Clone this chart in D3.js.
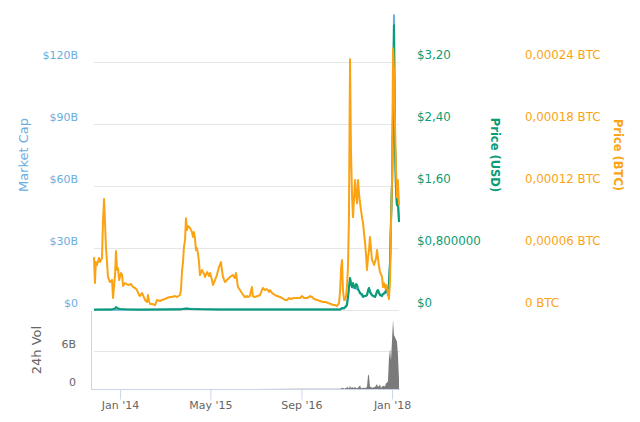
<!DOCTYPE html>
<html>
<head>
<meta charset="utf-8">
<script src="https://cdn.jsdelivr.net/npm/d3@7"></script>
<style>
  body { margin: 0; background: #fff; }
  text { font-family: "DejaVu Sans", sans-serif; }
</style>
</head>
<body>
<div id="chart"></div>
<script>
// Eje X
const xTicks = ["2014-01-01", "2015-05-01", "2016-09-01", "2018-01-01"];
const xTickLabels = ["Jan '14", "May '15", "Sep '16", "Jan '18"];

// Ejes Y (miles de millones, USD, BTC, volumen)
const capTicks = [0, 30, 60, 90, 120];
const capTickLabels = ["$0", "$30B", "$60B", "$90B", "$120B"];
const usdTicks = [0, 0.8, 1.6, 2.4, 3.2];
const usdTickLabels = ["$0", "$0,800000", "$1,60", "$2,40", "$3,20"];
const btcTicks = [0, 0.00006, 0.00012, 0.00018, 0.00024];
const btcTickLabels = ["0 BTC", "0,00006 BTC", "0,00012 BTC", "0,00018 BTC", "0,00024 BTC"];
const volTicks = [0, 6];
const volTickLabels = ["0", "6B"];

// Precio en BTC (x 1e-6)
const priceBtc = [
  ["2013-08-14", 51.2], ["2013-08-19", 26.1], ["2013-08-24", 46.4], ["2013-08-30", 43.5],
  ["2013-09-10", 50.3], ["2013-09-15", 46.4], ["2013-09-26", 50.3], ["2013-10-01", 84.1],
  ["2013-10-07", 107.3], ["2013-10-12", 85.1], ["2013-10-17", 60.9], ["2013-10-23", 46.4],
  ["2013-10-28", 31.9], ["2013-11-08", 27.1], ["2013-11-19", 29.0], ["2013-11-24", 11.6],
  ["2013-12-05", 33.8], ["2013-12-10", 57.0], ["2013-12-16", 38.7], ["2013-12-21", 40.6],
  ["2013-12-27", 29.0], ["2014-01-06", 35.8], ["2014-01-12", 33.8], ["2014-01-17", 23.2],
  ["2014-01-28", 26.1], ["2014-02-13", 24.2], ["2014-03-01", 25.1], ["2014-03-12", 22.2],
  ["2014-03-22", 21.3], ["2014-04-02", 19.3], ["2014-04-13", 14.5], ["2014-04-18", 13.5],
  ["2014-04-29", 16.4], ["2014-05-04", 14.5], ["2014-05-15", 9.7], ["2014-05-26", 7.7],
  ["2014-05-31", 14.5], ["2014-06-05", 8.7], ["2014-06-11", 5.8], ["2014-06-21", 5.8],
  ["2014-07-08", 4.8], ["2014-07-18", 9.7], ["2014-08-03", 8.7], ["2014-08-14", 9.7],
  ["2014-08-30", 10.6], ["2014-09-10", 11.6], ["2014-09-26", 12.6], ["2014-10-07", 12.6],
  ["2014-10-23", 13.5], ["2014-11-03", 12.6], ["2014-11-19", 14.5], ["2014-11-24", 19.3],
  ["2014-11-30", 38.7], ["2014-12-05", 46.4], ["2014-12-10", 60.9], ["2014-12-16", 67.7],
  ["2014-12-21", 88.9], ["2014-12-26", 77.3], ["2015-01-01", 81.2], ["2015-01-12", 79.3],
  ["2015-01-22", 75.4], ["2015-01-28", 70.6], ["2015-02-02", 75.4], ["2015-02-07", 69.6],
  ["2015-02-13", 58.0], ["2015-02-18", 59.9], ["2015-02-23", 55.1], ["2015-03-01", 46.4],
  ["2015-03-06", 33.8], ["2015-03-17", 38.7], ["2015-03-28", 34.8], ["2015-04-02", 31.9],
  ["2015-04-13", 36.7], ["2015-04-24", 32.9], ["2015-04-29", 35.8], ["2015-05-10", 29.0],
  ["2015-05-15", 24.2], ["2015-05-26", 29.0], ["2015-06-05", 33.8], ["2015-06-16", 41.6],
  ["2015-06-27", 46.4], ["2015-07-02", 38.7], ["2015-07-08", 31.9], ["2015-07-18", 27.1],
  ["2015-07-29", 29.0], ["2015-08-09", 30.9], ["2015-08-14", 31.9], ["2015-08-30", 33.8],
  ["2015-09-10", 30.9], ["2015-09-15", 35.8], ["2015-09-21", 29.0], ["2015-09-26", 22.2],
  ["2015-10-07", 19.3], ["2015-10-17", 16.4], ["2015-10-28", 13.5], ["2015-11-02", 12.6],
  ["2015-11-13", 13.5], ["2015-11-18", 12.6], ["2015-11-29", 13.5], ["2015-12-10", 22.2],
  ["2015-12-15", 13.5], ["2015-12-26", 12.6], ["2016-01-11", 13.5], ["2016-01-22", 14.5],
  ["2016-02-02", 19.3], ["2016-02-07", 21.3], ["2016-02-18", 19.3], ["2016-02-29", 20.3],
  ["2016-03-11", 17.4], ["2016-03-16", 19.3], ["2016-03-27", 16.4], ["2016-04-12", 14.5],
  ["2016-04-23", 13.5], ["2016-05-09", 12.6], ["2016-05-20", 11.6], ["2016-06-05", 9.7],
  ["2016-06-16", 9.7], ["2016-06-26", 11.6], ["2016-07-07", 10.6], ["2016-07-23", 11.6],
  ["2016-08-08", 11.6], ["2016-08-25", 11.6], ["2016-09-04", 13.5], ["2016-09-15", 11.6],
  ["2016-10-01", 11.6], ["2016-10-12", 12.6], ["2016-10-17", 13.5], ["2016-10-28", 12.6],
  ["2016-11-08", 10.6], ["2016-11-24", 9.7], ["2016-12-10", 8.7], ["2016-12-26", 7.7],
  ["2017-01-11", 7.7], ["2017-01-22", 6.8], ["2017-02-07", 5.8], ["2017-02-18", 4.8],
  ["2017-02-28", 4.8], ["2017-03-11", 3.9], ["2017-03-22", 6.8], ["2017-03-28", 19.3],
  ["2017-04-02", 40.6], ["2017-04-07", 48.3], ["2017-04-12", 19.3], ["2017-04-18", 9.7],
  ["2017-04-23", 9.7], ["2017-04-29", 13.5], ["2017-05-04", 24.2], ["2017-05-09", 41.6],
  ["2017-05-14", 87.0], ["2017-05-20", 242.6], ["2017-05-25", 154.7], ["2017-05-31", 109.2],
  ["2017-06-05", 89.9], ["2017-06-10", 106.3], ["2017-06-16", 125.7], ["2017-06-21", 111.2],
  ["2017-06-27", 103.4], ["2017-07-02", 125.7], ["2017-07-08", 111.2], ["2017-07-13", 103.4],
  ["2017-07-18", 96.7], ["2017-07-24", 88.9], ["2017-07-29", 84.1], ["2017-08-03", 74.4],
  ["2017-08-09", 64.8], ["2017-08-14", 53.2], ["2017-08-19", 38.7], ["2017-08-25", 51.2],
  ["2017-08-30", 58.0], ["2017-09-04", 70.6], ["2017-09-10", 58.0], ["2017-09-15", 48.3],
  ["2017-09-21", 46.4], ["2017-09-26", 43.5], ["2017-10-01", 46.4], ["2017-10-07", 50.3],
  ["2017-10-12", 58.0], ["2017-10-17", 50.3], ["2017-10-23", 41.6], ["2017-10-28", 36.7],
  ["2017-11-02", 34.8], ["2017-11-08", 31.9], ["2017-11-13", 22.2], ["2017-11-18", 26.1],
  ["2017-11-24", 21.3], ["2017-11-29", 24.2], ["2017-12-05", 20.3], ["2017-12-10", 16.4],
  ["2017-12-15", 10.6], ["2017-12-21", 29.0], ["2017-12-26", 82.2], ["2018-01-01", 130.5],
  ["2018-01-06", 253.2], ["2018-01-11", 232.0], ["2018-01-16", 183.7], ["2018-01-22", 135.3],
  ["2018-01-27", 109.2], ["2018-02-01", 125.7], ["2018-02-07", 101.5]
];

// Precio en USD
const priceUsd = [
  ["2013-08-14", 0.006], ["2013-11-19", 0.008], ["2013-12-05", 0.02], ["2013-12-10", 0.039],
  ["2013-12-21", 0.02], ["2014-01-01", 0.013], ["2014-01-28", 0.009], ["2014-04-18", 0.005],
  ["2014-11-19", 0.005], ["2014-12-21", 0.02], ["2015-01-12", 0.013], ["2015-03-06", 0.009],
  ["2015-06-27", 0.007], ["2016-08-25", 0.006], ["2017-03-28", 0.007], ["2017-04-02", 0.013],
  ["2017-04-07", 0.026], ["2017-04-18", 0.02], ["2017-04-29", 0.052], ["2017-05-04", 0.064],
  ["2017-05-09", 0.168], ["2017-05-14", 0.284], ["2017-05-20", 0.412], ["2017-05-25", 0.335],
  ["2017-05-31", 0.296], ["2017-06-05", 0.348], ["2017-06-10", 0.309], ["2017-06-16", 0.284],
  ["2017-06-21", 0.335], ["2017-06-27", 0.322], ["2017-07-02", 0.271], ["2017-07-08", 0.245],
  ["2017-07-13", 0.219], ["2017-07-24", 0.206], ["2017-07-29", 0.168], ["2017-08-03", 0.180],
  ["2017-08-09", 0.180], ["2017-08-19", 0.193], ["2017-08-25", 0.258], ["2017-08-30", 0.284],
  ["2017-09-04", 0.232], ["2017-09-10", 0.206], ["2017-09-15", 0.193], ["2017-09-26", 0.180],
  ["2017-10-01", 0.168], ["2017-10-07", 0.206], ["2017-10-12", 0.245], ["2017-10-17", 0.258],
  ["2017-10-23", 0.219], ["2017-10-28", 0.193], ["2017-11-08", 0.180], ["2017-11-13", 0.206],
  ["2017-11-24", 0.219], ["2017-11-29", 0.245], ["2017-12-05", 0.284], ["2017-12-10", 0.193],
  ["2017-12-15", 0.348], ["2017-12-21", 0.619], ["2017-12-26", 1.160], ["2018-01-01", 1.675],
  ["2018-01-06", 2.577], ["2018-01-11", 3.673], ["2018-01-16", 2.191], ["2018-01-22", 1.546],
  ["2018-01-27", 1.353], ["2018-02-01", 1.417], ["2018-02-07", 1.134]
];

// Capitalizacion (miles de millones USD)
const marketCap = [
  ["2013-08-14", 0.05], ["2013-12-10", 0.25], ["2014-04-18", 0.05], ["2014-12-21", 0.6],
  ["2015-06-27", 0.3], ["2016-08-25", 0.25], ["2017-03-28", 0.3], ["2017-04-29", 1.5],
  ["2017-05-09", 6.0], ["2017-05-20", 15.5], ["2017-05-31", 11.0], ["2017-06-16", 10.5],
  ["2017-07-02", 10.0], ["2017-07-13", 8.0], ["2017-07-29", 6.5], ["2017-08-19", 7.0],
  ["2017-08-30", 10.5], ["2017-09-15", 7.0], ["2017-10-01", 6.3], ["2017-10-17", 9.5],
  ["2017-10-28", 7.2], ["2017-11-13", 7.7], ["2017-11-29", 9.3], ["2017-12-05", 10.5],
  ["2017-12-10", 7.2], ["2017-12-15", 13.0], ["2017-12-21", 23.0], ["2017-12-26", 43.0],
  ["2018-01-01", 63.0], ["2018-01-06", 97.0], ["2018-01-11", 142.6], ["2018-01-16", 83.0],
  ["2018-01-22", 58.0], ["2018-01-27", 51.0], ["2018-02-01", 53.0], ["2018-02-07", 43.0]
];

// Volumen 24h (miles de millones)
const volume24h = [
  ["2013-08-14", 0.01], ["2016-08-25", 0.02], ["2017-03-28", 0.05], ["2017-04-12", 0.2],
  ["2017-04-18", 0.05], ["2017-05-09", 0.3], ["2017-05-14", 0.05], ["2017-05-20", 0.5],
  ["2017-05-25", 0.1], ["2017-05-31", 0.3], ["2017-06-10", 0.1], ["2017-06-16", 0.4],
  ["2017-06-21", 0.1], ["2017-07-02", 0.2], ["2017-07-13", 0.6], ["2017-07-18", 0.1],
  ["2017-07-29", 0.2], ["2017-08-09", 0.15], ["2017-08-19", 0.3], ["2017-08-25", 2.3],
  ["2017-08-30", 2.1], ["2017-09-04", 0.4], ["2017-09-15", 0.2], ["2017-10-01", 0.3],
  ["2017-10-12", 0.8], ["2017-10-17", 0.3], ["2017-10-28", 0.7], ["2017-11-02", 0.2],
  ["2017-11-13", 0.5], ["2017-11-24", 0.4], ["2017-11-29", 0.9], ["2017-12-05", 1.0],
  ["2017-12-10", 1.3], ["2017-12-15", 4.8], ["2017-12-21", 6.3], ["2017-12-26", 4.5],
  ["2018-01-01", 8.0], ["2018-01-06", 10.9], ["2018-01-11", 8.5], ["2018-01-16", 8.2],
  ["2018-01-22", 7.8], ["2018-01-27", 7.5], ["2018-02-01", 5.5], ["2018-02-07", 1.5]
];

const COLORS = {
  cap: "#6aaee0",
  usd: "#0a9c74",
  btc: "#fba313",
  vol: "#7a7a7a",
  grid: "#e6e6e6",
  axis: "#ccd6eb",
  label: "#666666"
};

const width = 640, height = 422;
const plot = { left: 94, right: 399, top: 0, bottom: 310 };
const volBox = { top: 311, bottom: 389 };

const parse = d3.timeParse("%Y-%m-%d");

const svg = d3.select("#chart").append("svg")
  .attr("width", width)
  .attr("height", height);

// Escalas
const x = d3.scaleTime()
  .domain([parse("2013-08-14"), parse("2018-02-07")])
  .range([plot.left, plot.right]);
const yCap = d3.scaleLinear().domain([0, 150]).range([plot.bottom, plot.top]);
const yUsd = d3.scaleLinear().domain([0, 4]).range([plot.bottom, plot.top]);
const yBtc = d3.scaleLinear().domain([0, 0.0003]).range([plot.bottom, plot.top]);
const yVol = d3.scaleLinear().domain([0, 12.3]).range([volBox.bottom, volBox.top]);

// Rejilla del panel principal
svg.append("g")
  .selectAll("line")
  .data(capTicks)
  .join("line")
  .attr("x1", plot.left)
  .attr("x2", plot.right)
  .attr("y1", d => Math.round(yCap(d)) + 0.5)
  .attr("y2", d => Math.round(yCap(d)) + 0.5)
  .attr("stroke", COLORS.grid);

// Rejilla del volumen
svg.append("g")
  .selectAll("line")
  .data(volTicks.filter(d => d > 0))
  .join("line")
  .attr("x1", plot.left)
  .attr("x2", plot.right + 1)
  .attr("y1", d => Math.round(yVol(d)) + 0.5)
  .attr("y2", d => Math.round(yVol(d)) + 0.5)
  .attr("stroke", COLORS.grid);

function styleAxis(g, color, size) {
  g.select(".domain").remove();
  g.selectAll("text")
    .attr("fill", color)
    .attr("font-size", size)
    .attr("dy", "-0.32em");
}

// Eje izquierdo: capitalizacion
svg.append("g")
  .attr("transform", `translate(${plot.left},0)`)
  .call(d3.axisLeft(yCap).tickValues(capTicks)
    .tickFormat((d, i) => capTickLabels[i]).tickSize(0).tickPadding(16))
  .call(g => styleAxis(g, COLORS.cap, 11));

// Eje derecho: USD
svg.append("g")
  .attr("transform", `translate(${plot.right},0)`)
  .call(d3.axisRight(yUsd).tickValues(usdTicks)
    .tickFormat((d, i) => usdTickLabels[i]).tickSize(0).tickPadding(18))
  .call(g => styleAxis(g, COLORS.usd, 11.8));

// Eje derecho: BTC
svg.append("g")
  .attr("transform", `translate(${plot.right},0)`)
  .call(d3.axisRight(yBtc).tickValues(btcTicks)
    .tickFormat((d, i) => btcTickLabels[i]).tickSize(0).tickPadding(126))
  .call(g => styleAxis(g, COLORS.btc, 11.8));

// Eje del volumen
svg.append("g")
  .attr("transform", `translate(${plot.left},0)`)
  .call(d3.axisLeft(yVol).tickValues(volTicks)
    .tickFormat((d, i) => volTickLabels[i]).tickSize(0).tickPadding(18))
  .call(g => styleAxis(g, COLORS.label, 11));

svg.append("line")
  .attr("x1", 91.5).attr("x2", 91.5)
  .attr("y1", volBox.top).attr("y2", volBox.bottom)
  .attr("stroke", COLORS.axis);

// Eje X
const xAxis = svg.append("g")
  .attr("transform", `translate(0,${volBox.bottom + 0.5})`)
  .call(d3.axisBottom(x).tickValues(xTicks.map(parse))
    .tickFormat((d, i) => xTickLabels[i]).tickSize(10).tickSizeOuter(0).tickPadding(2));
xAxis.select(".domain")
  .attr("stroke", COLORS.axis)
  .attr("d", `M91,0H${plot.right + 1}`);
xAxis.selectAll(".tick line").attr("stroke", COLORS.axis);
xAxis.selectAll("text").attr("fill", COLORS.label).attr("font-size", 11);

// Volumen
svg.append("path")
  .datum(volume24h)
  .attr("fill", COLORS.vol)
  .attr("d", d3.area()
    .x(d => x(parse(d[0])))
    .y0(yVol(0))
    .y1(d => yVol(d[1])));

// Series principales
const lineOf = (scale, k) => d3.line()
  .x(d => x(parse(d[0])))
  .y(d => scale(d[1] * k));

svg.append("path")
  .datum(marketCap)
  .attr("fill", "none")
  .attr("stroke", COLORS.cap)
  .attr("stroke-width", 2)
  .attr("stroke-linejoin", "round")
  .attr("d", lineOf(yCap, 1));

svg.append("path")
  .datum(priceUsd)
  .attr("fill", "none")
  .attr("stroke", COLORS.usd)
  .attr("stroke-width", 2)
  .attr("stroke-linejoin", "round")
  .attr("d", lineOf(yUsd, 1));

svg.append("path")
  .datum(priceBtc)
  .attr("fill", "none")
  .attr("stroke", COLORS.btc)
  .attr("stroke-width", 2)
  .attr("stroke-linejoin", "round")
  .attr("d", lineOf(yBtc, 1e-6));

// Titulos de ejes
function axisTitle(label, cx, cy, angle, color, size, weight) {
  svg.append("text")
    .attr("transform", `translate(${cx},${cy}) rotate(${angle})`)
    .attr("text-anchor", "middle")
    .attr("dominant-baseline", "central")
    .attr("fill", color)
    .attr("font-size", size)
    .attr("font-weight", weight)
    .text(label);
}

axisTitle("Market Cap", 23, 155, -90, COLORS.cap, 13, "normal");
axisTitle("Price (USD)", 495, 155, 90, COLORS.usd, 11.5, "bold");
axisTitle("Price (BTC)", 618, 155, 90, COLORS.btc, 11.5, "bold");
axisTitle("24h Vol", 36, 350, -90, COLORS.label, 13, "normal");
</script>
</body>
</html>
